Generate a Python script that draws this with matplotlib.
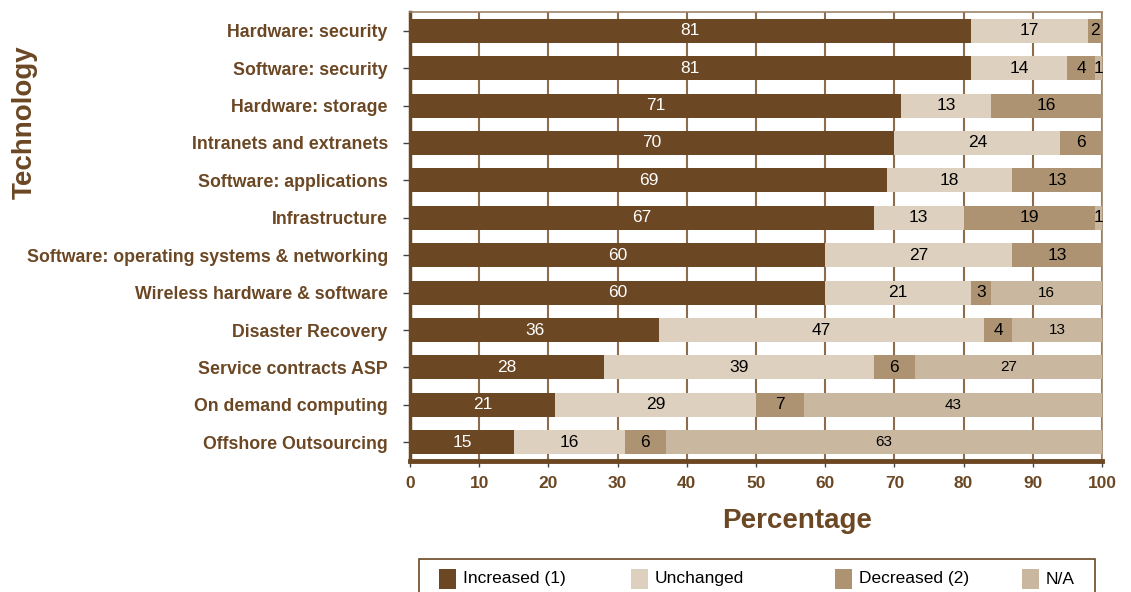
import matplotlib
matplotlib.use("Agg")
import matplotlib.pyplot as plt
from matplotlib.patches import Rectangle

# ---- data -------------------------------------------------------------
categories = [
    "Hardware: security",
    "Software: security",
    "Hardware: storage",
    "Intranets and extranets",
    "Software: applications",
    "Infrastructure",
    "Software: operating systems & networking",
    "Wireless hardware & software",
    "Disaster Recovery",
    "Service contracts ASP",
    "On demand computing",
    "Offshore Outsourcing",
]
increased = [81, 81, 71, 70, 69, 67, 60, 60, 36, 28, 21, 15]
unchanged = [17, 14, 13, 24, 18, 13, 27, 21, 47, 39, 29, 16]
decreased = [2, 4, 16, 6, 13, 19, 13, 3, 4, 6, 7, 6]
not_applicable = [0, 1, 0, 0, 0, 1, 0, 16, 13, 27, 43, 63]

series_names = ["Increased (1)", "Unchanged", "Decreased (2)", "N/A"]
x_ticks = [0, 10, 20, 30, 40, 50, 60, 70, 80, 90, 100]

# ---- styling ----------------------------------------------------------
BROWN = "#6B4724"
GRID = "#8C6C4C"
colors = ["#6B4724", "#DDD0BF", "#AE9373", "#C9B89F"]
label_colors = ["white", "black", "black", "black"]

plt.rcParams["font.family"] = ["Liberation Sans", "DejaVu Sans"]

W, H = 1131, 592
fig = plt.figure(figsize=(W / 100, H / 100), dpi=100)
ax = fig.add_axes([410 / W, 1 - 461 / H, (1102 - 410) / W, (461 - 12) / H])

n = len(categories)
ypos = list(range(n))
series = [increased, unchanged, decreased, not_applicable]
left = [0] * n
for k, vals in enumerate(series):
    ax.barh(ypos, vals, left=left, height=0.64, color=colors[k],
            edgecolor="none", zorder=3, label=series_names[k])
    for i, v in enumerate(vals):
        if v > 0:
            size = 11 if (k == 3 and v >= 5) else 12.5
            ax.text(left[i] + v / 2, i, str(v), ha="center", va="center",
                    color=label_colors[k], fontsize=size, zorder=4)
    left = [a + b for a, b in zip(left, vals)]

ax.set_xlim(0, 100)
ax.set_ylim(n - 0.5, -0.5)
ax.set_xticks(x_ticks)
ax.set_xticklabels([str(t) for t in x_ticks], fontsize=12.5,
                   fontweight="bold", color=BROWN)
ax.set_yticks(ypos)
ax.set_yticklabels(categories, fontsize=12.75, fontweight="bold", color=BROWN)
ax.tick_params(axis="y", length=5, width=1, color="#444444", pad=11)
ax.tick_params(axis="x", length=4, width=1, color="#444444", pad=7)

ax.xaxis.grid(True, color=GRID, linewidth=1.5, zorder=0)
ax.set_axisbelow(True)

for side in ("top", "right"):
    ax.spines[side].set_color("#9C8468")
    ax.spines[side].set_linewidth(1.2)
ax.spines["left"].set_color(BROWN)
ax.spines["left"].set_linewidth(2.5)
ax.spines["bottom"].set_color(BROWN)
ax.spines["bottom"].set_linewidth(3.5)

# axis titles
fig.text(797 / W, 1 - 521 / H, "Percentage", fontsize=20,
         fontweight="bold", color=BROWN, ha="center", va="center")
fig.text(25 / W, 1 - 122 / H, "Technology", rotation=90, fontsize=20,
         fontweight="bold", color=BROWN, ha="center", va="center")

# ---- legend (boxed row along the bottom edge) -------------------------
frame = Rectangle((419 / W, 1 - 600 / H), (1095 - 419) / W, (600 - 559) / H,
                  transform=fig.transFigure, facecolor="white",
                  edgecolor=BROWN, linewidth=1.2)
fig.patches.append(frame)

marker_x = [439, 631, 835, 1022]
for k, name in enumerate(series_names):
    sw = Rectangle((marker_x[k] / W, 1 - 589 / H), 17 / W, 20 / H,
                   transform=fig.transFigure, facecolor=colors[k],
                   edgecolor="none")
    fig.patches.append(sw)
    fig.text((marker_x[k] + 24) / W, 1 - 579 / H, name, fontsize=12.5,
             color="black", ha="left", va="center")

fig.savefig("out.png", dpi=100)
